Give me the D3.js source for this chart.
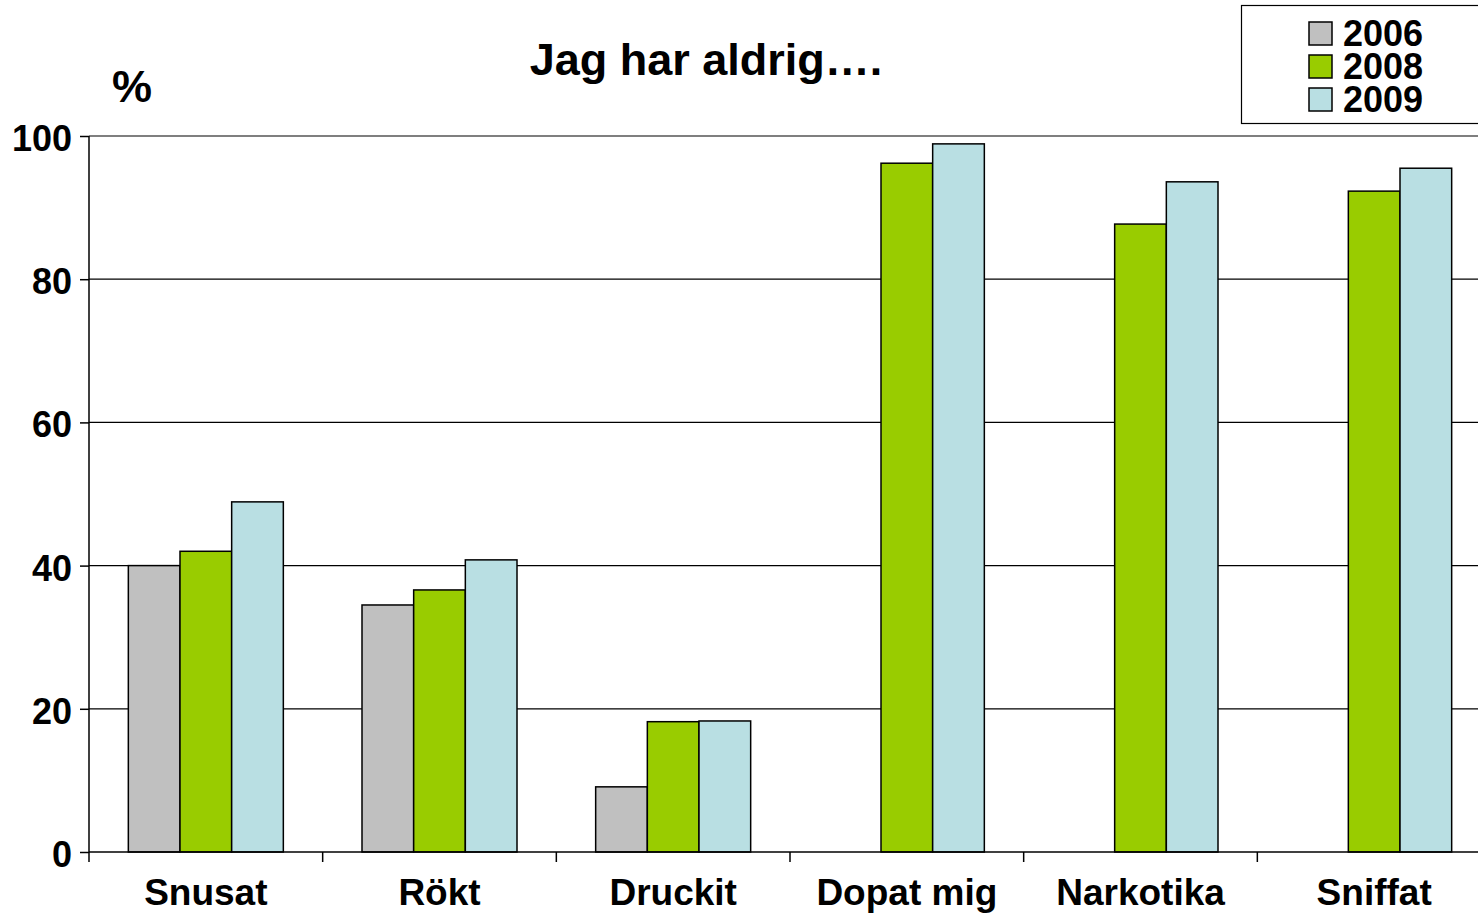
<!DOCTYPE html>
<html>
<head>
<meta charset="utf-8">
<script src="https://cdn.jsdelivr.net/npm/d3@7"></script>
<style>
  html, body { margin: 0; padding: 0; background: #fff; overflow: hidden; }
  svg { display: block; font-family: "Liberation Sans", Arial, sans-serif; }
</style>
</head>
<body>
<div id="chart"></div>
<script>
// categories and series (null = no bar)
const categories = ['Snusat', 'Rökt', 'Druckit', 'Dopat mig', 'Narkotika', 'Sniffat'];
const seriesNames = ['2006', '2008', '2009'];
const values2006 = [40, 34.5, 9.1, null, null, null];
const values2008 = [42, 36.6, 18.2, 96.2, 87.7, 92.3];
const values2009 = [48.9, 40.8, 18.3, 98.9, 93.6, 95.5];
const yTicks = [0, 20, 40, 60, 80, 100];

const colors = ['#C0C0C0', '#99CC00', '#B9DFE3'];

const width = 1478, height = 915;
const plot = { left: 89, right: 1491, top: 136, bottom: 852 };

const svg = d3.select('#chart').append('svg')
    .attr('width', width)
    .attr('height', height);

const x = d3.scaleBand()
    .domain(categories)
    .range([plot.left, plot.right]);

const groupWidth = 155;
const x1 = d3.scaleBand()
    .domain(seriesNames)
    .range([(x.bandwidth() - groupWidth) / 2, (x.bandwidth() + groupWidth) / 2]);

const y = d3.scaleLinear()
    .domain([0, 100])
    .range([plot.bottom, plot.top]);

// gridlines
svg.append('g')
    .selectAll('line')
    .data(yTicks.filter(t => t > 0))
    .join('line')
    .attr('x1', plot.left)
    .attr('x2', width)
    .attr('y1', d => y(d))
    .attr('y2', d => y(d))
    .attr('stroke', '#000')
    .attr('stroke-width', 1.2);

// bars
const series = [values2006, values2008, values2009];
const barData = [];
categories.forEach((c, i) => {
    series.forEach((s, j) => {
        if (s[i] !== null) barData.push({ cat: c, name: seriesNames[j], value: s[i], color: colors[j] });
    });
});

svg.append('g')
    .selectAll('rect')
    .data(barData)
    .join('rect')
    .attr('x', d => x(d.cat) + x1(d.name))
    .attr('width', x1.bandwidth())
    .attr('y', d => y(d.value))
    .attr('height', d => y(0) - y(d.value))
    .attr('fill', d => d.color)
    .attr('stroke', '#000')
    .attr('stroke-width', 1.5);

// y axis
const yAxis = svg.append('g')
    .attr('transform', `translate(${plot.left},0)`)
    .call(d3.axisLeft(y).tickValues(yTicks).tickSize(9).tickPadding(8).tickFormat(d3.format('d')));
yAxis.select('.domain').attr('stroke', '#000').attr('stroke-width', 1.5).attr('d', `M0,${plot.top}V${plot.bottom}`);
yAxis.selectAll('.tick line').attr('stroke', '#000').attr('stroke-width', 1.5);
yAxis.selectAll('.tick text')
    .attr('font-size', 36)
    .attr('font-weight', 'bold')
    .attr('dy', '0.4em')
    .attr('fill', '#000');

// x axis
const xAxis = svg.append('g')
    .attr('transform', `translate(0,${plot.bottom})`)
    .call(d3.axisBottom(x).tickSize(0).tickPadding(27));
xAxis.select('.domain').attr('stroke', '#000').attr('stroke-width', 1.5).attr('d', `M${plot.left},0H${width}`);
xAxis.selectAll('.tick text')
    .attr('font-size', 37)
    .attr('font-weight', 'bold')
    .attr('fill', '#000');

// category separator ticks
svg.append('g')
    .selectAll('line')
    .data(categories)
    .join('line')
    .attr('x1', d => x(d))
    .attr('x2', d => x(d))
    .attr('y1', plot.bottom)
    .attr('y2', plot.bottom + 10)
    .attr('stroke', '#000')
    .attr('stroke-width', 1.5);

// title and unit
svg.append('text')
    .attr('x', 706)
    .attr('y', 75)
    .attr('text-anchor', 'middle')
    .attr('font-size', 45)
    .attr('font-weight', 'bold')
    .text('Jag har aldrig….');

svg.append('text')
    .attr('x', 132)
    .attr('y', 102)
    .attr('text-anchor', 'middle')
    .attr('font-size', 45)
    .attr('font-weight', 'bold')
    .text('%');

// legend
const legend = svg.append('g');
legend.append('rect')
    .attr('x', 1241.5)
    .attr('y', 5.5)
    .attr('width', 260)
    .attr('height', 118)
    .attr('fill', '#fff')
    .attr('stroke', '#000')
    .attr('stroke-width', 1.2);

const item = legend.selectAll('g.item')
    .data(seriesNames)
    .join('g')
    .attr('class', 'item')
    .attr('transform', (d, i) => `translate(1309,${33 + i * 33})`);
item.append('rect')
    .attr('x', 0)
    .attr('y', -11)
    .attr('width', 23)
    .attr('height', 23)
    .attr('fill', (d, i) => colors[i])
    .attr('stroke', '#000')
    .attr('stroke-width', 1.5);
item.append('text')
    .attr('x', 34)
    .attr('y', 13)
    .attr('font-size', 36)
    .attr('font-weight', 'bold')
    .text(d => d);
</script>
</body>
</html>
